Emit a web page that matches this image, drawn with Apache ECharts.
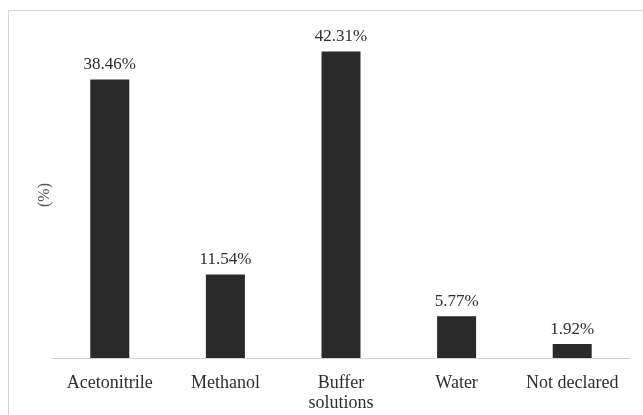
<!DOCTYPE html>
<html>
<head>
<meta charset="utf-8">
<script src="https://cdn.jsdelivr.net/npm/echarts@6/dist/echarts.min.js"></script>
<style>
  html, body { margin: 0; padding: 0; background: #fff; }
  #chart { width: 643px; height: 415px; }
</style>
</head>
<body>
<div id="chart"></div>
<script>
// Solvents used in the mobile phase (share of reports, %)
const categories = ['Acetonitrile', 'Methanol', 'Buffer\nsolutions', 'Water', 'Not declared'];
const shares = [38.46, 11.54, 42.31, 5.77, 1.92];

const serif = 'Liberation Serif';

const chart = echarts.init(document.getElementById('chart'), null, { renderer: 'canvas' });
chart.setOption({
  animation: false,
  backgroundColor: '#ffffff',
  graphic: [{
    type: 'rect',
    shape: { x: 8.5, y: 10.5, width: 700, height: 500 },
    style: { fill: 'none', stroke: '#d4d4d4', lineWidth: 1 },
    silent: true
  }],
  grid: { left: 52, right: 13, top: 32, bottom: 57 },
  xAxis: {
    type: 'category',
    data: categories,
    axisLine: { lineStyle: { color: '#d0d0d0', width: 1 } },
    axisTick: { show: false },
    axisLabel: {
      color: '#2e2e2e',
      fontFamily: serif,
      fontSize: 18,
      lineHeight: 20,
      margin: 15,
      interval: 0
    }
  },
  yAxis: {
    type: 'value',
    min: 0,
    max: 45,
    name: '(%)',
    nameLocation: 'middle',
    nameRotate: 90,
    nameGap: -1,
    nameTextStyle: { color: '#555555', fontFamily: serif, fontSize: 16 },
    axisLine: { show: false },
    axisTick: { show: false },
    axisLabel: { show: false },
    splitLine: { show: false }
  },
  series: [{
    type: 'bar',
    data: shares,
    barWidth: 39,
    itemStyle: { color: '#2a2a2a' },
    label: {
      show: true,
      position: 'top',
      distance: 6,
      color: '#2e2e2e',
      fontFamily: serif,
      fontSize: 17,
      formatter: p => p.value.toFixed(2) + '%'
    }
  }]
});
</script>
</body>
</html>
